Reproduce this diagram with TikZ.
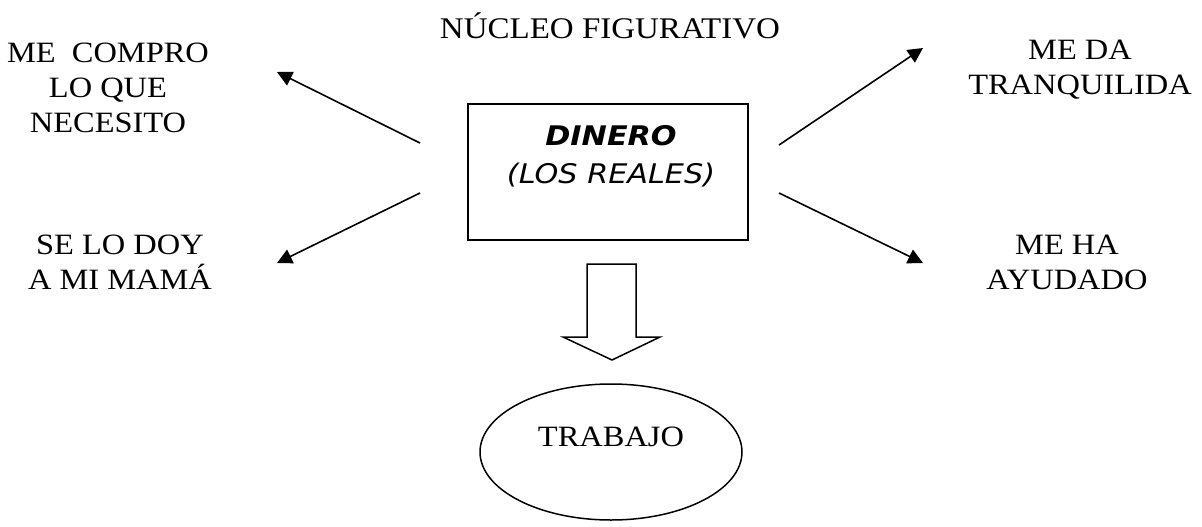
\documentclass[tikz,border=0pt]{standalone}
\usepackage{fontspec}
\setmainfont{Liberation Serif}[FakeStretch=1.1]
\newfontfamily\handfont{DejaVu Sans}[FakeStretch=1.12]
\usetikzlibrary{arrows.meta,shapes.geometric}

\tikzset{
  label text/.style={align=center, font=\fontsize{29.5}{35}\selectfont},
  ray/.style={line width=1.6pt, -{Triangle[length=15pt,width=15pt]}}
}

\begin{document}
\begin{tikzpicture}[x=1pt,y=-1pt]
\useasboundingbox (0,0) rectangle (1202,527);
% central box and title
\draw[line width=1.5pt] (468,104) rectangle (748,240);
\node[font=\fontsize{30}{35}\selectfont] (title) at (610,26) {NÚCLEO FIGURATIVO};
\node[align=center, font=\handfont\itshape\fontsize{27}{38}\selectfont] (dinero) at (611,156)
  {{\bfseries DINERO}\\(LOS REALES)};
% side texts
\node[label text] (compro) at (108,88) {ME\ \ COMPRO\\LO QUE\\NECESITO};
\node[label text] (mama) at (120,262) {SE LO DOY\\A MI MAMÁ};
\node[label text] (tranq) at (1080,70) {ME DA\\TRANQUILIDA};
\node[label text] (ayuda) at (1067,262) {ME HA\\AYUDADO};
% arrows
\coordinate (ul) at (420,143);  \coordinate (ulend) at (277,72);
\coordinate (ll) at (420,193);  \coordinate (llend) at (277,263);
\coordinate (ur) at (779,145);  \coordinate (urend) at (923,48);
\coordinate (lr) at (779,193);  \coordinate (lrend) at (923,263);
\draw[ray] (ul) -- (ulend);
\draw[ray] (ll) -- (llend);
\draw[ray] (ur) -- (urend);
\draw[ray] (lr) -- (lrend);
% block arrow down
\draw[line width=1.5pt, line join=miter] (587,264) -- (636,264) -- (636,337) -- (660,337)
  -- (612,360) -- (563,337) -- (587,337) -- cycle;
% ellipse
\node[draw, line width=1.5pt, ellipse, minimum width=262pt, minimum height=136pt] (trabajo) at (611,452) {};
\node[font=\fontsize{29.5}{35}\selectfont] (trabajotext) at (611,437) {TRABAJO};
\end{tikzpicture}
\end{document}
